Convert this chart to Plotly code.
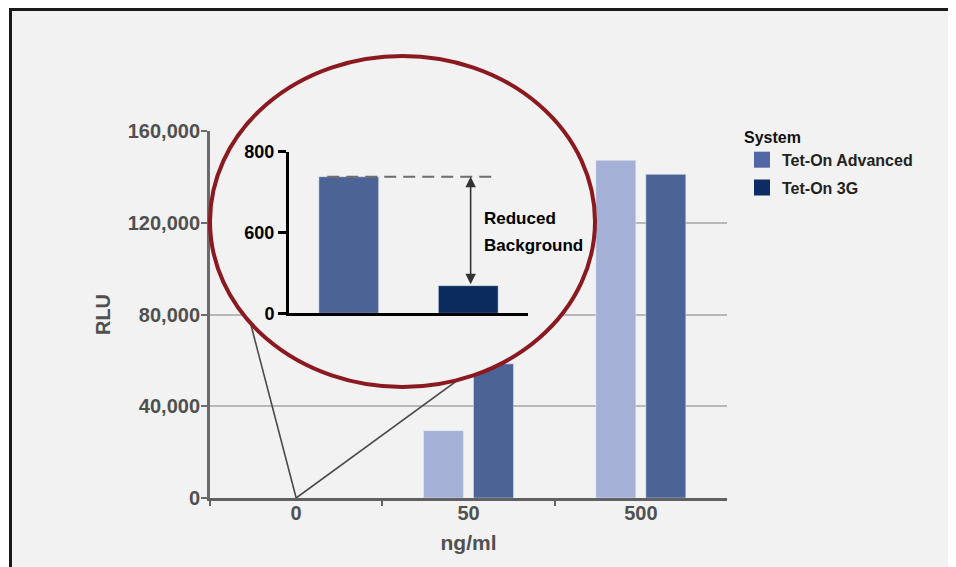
import plotly.graph_objects as go

# ---------------- data ----------------
doses = ["0", "50", "500"]
series_names = ["Tet-On Advanced", "Tet-On 3G"]
adv_rlu = [None, 29300, 147200]      # Tet-On Advanced (main chart)
g3_rlu = [None, 58500, 141100]       # Tet-On 3G (main chart)
inset_rlu = [738, 205]               # background at 0 ng/ml (inset)
inset_tick_vals = [0, 600, 800]
main_tick_vals = [0, 40000, 80000, 120000, 160000]

# colours
main_colors = ["#a4b0d6", "#4c6395"]
legend_colors = ["#5068a3", "#0d2c63"]
inset_colors = ["#4c6396", "#0b2a5e"]

FONT = "Liberation Sans, Arial, sans-serif"
OFF = 8                          # page body margin
W, H = 956 - 2 * OFF, 567 - OFF  # figure fills the window below/right of the body margin


def brk(v):
    """broken inset scale: 0-600 -> 0-1, 600-800 -> 1-2"""
    return v / 600.0 if v <= 600 else 1 + (v - 600) / 200.0


def px(x):
    """page pixel x -> paper fraction"""
    return (x - OFF) / W


def py(y):
    """page pixel y -> paper fraction"""
    return 1 - (y - OFF) / H


fig = go.Figure()

# main bars
fig.add_trace(go.Bar(x=doses, y=adv_rlu, name=series_names[0], marker_color=main_colors[0],
                     showlegend=False, xaxis="x", yaxis="y"))
fig.add_trace(go.Bar(x=doses, y=g3_rlu, name=series_names[1], marker_color=main_colors[1],
                     showlegend=False, xaxis="x", yaxis="y"))

# legend entries (overlay subplot, no data drawn)
for nm, col in zip(series_names, legend_colors):
    fig.add_trace(go.Scatter(x=[None], y=[None], mode="markers", name=nm, legendgroup=nm,
                             marker=dict(symbol="square", size=18, color=col),
                             xaxis="x2", yaxis="y2"))

# inset bars
fig.add_trace(go.Bar(x=series_names, y=[brk(v) for v in inset_rlu], width=0.5,
                     marker_color=inset_colors, showlegend=False,
                     customdata=inset_rlu, hovertemplate="%{x}: %{customdata}<extra></extra>",
                     xaxis="x3", yaxis="y3"))

fig.update_layout(
    width=W, height=H, autosize=False,
    margin=dict(l=0, r=0, t=0, b=0, pad=0, autoexpand=False),
    paper_bgcolor="#f2f2f2",
    plot_bgcolor="rgba(0,0,0,0)",
    font=dict(family=FONT),
    barmode="group", bargap=0.42, bargroupgap=0.2,
    xaxis=dict(domain=[px(210), px(727)], type="category", categoryorder="array",
               categoryarray=doses, range=[-0.5, 2.5], anchor="y", automargin=False,
               showline=True, linecolor="#616161", linewidth=3,
               ticks="outside", tickson="boundaries", ticklen=5, tickwidth=2, tickcolor="#616161",
               tickfont=dict(size=20, color="#505050", weight="bold"), ticklabelstandoff=-5,
               showgrid=False, zeroline=False,
               title=dict(text="ng/ml", font=dict(size=21, color="#505050", weight="bold"), standoff=13)),
    yaxis=dict(domain=[py(498), py(131)], range=[0, 160000], anchor="x", automargin=False,
               tickvals=main_tick_vals, tickformat=",",
               showline=True, linecolor="#6b6b6b", linewidth=3,
               ticks="outside", ticklen=6, tickwidth=2, tickcolor="#6b6b6b",
               tickfont=dict(size=20, color="#505050", weight="bold"), ticklabelstandoff=-3,
               showgrid=True, gridcolor="#b7b7b7", gridwidth=2, zeroline=False,
               title=dict(text="RLU", font=dict(size=20, color="#505050", weight="bold"), standoff=12)),
    xaxis2=dict(domain=[0, 1], range=[OFF, OFF + W], anchor="y2", visible=False, fixedrange=True,
                automargin=False),
    yaxis2=dict(domain=[0, 1], range=[OFF + H, OFF], anchor="x2", visible=False, fixedrange=True,
                automargin=False),
    xaxis3=dict(domain=[px(289), px(528)], type="category", range=[-0.5, 1.5], anchor="y3",
                automargin=False,
                showline=True, linecolor="black", linewidth=3, ticks="",
                showticklabels=False, showgrid=False, zeroline=False),
    yaxis3=dict(domain=[py(313.3), py(151.7)], range=[0, 2], anchor="x3", automargin=False,
                tickvals=[brk(v) for v in inset_tick_vals], ticktext=[str(v) for v in inset_tick_vals],
                showline=True, linecolor="black", linewidth=3,
                ticks="outside", ticklen=8, tickwidth=3, tickcolor="black",
                tickfont=dict(size=18, color="black", weight="bold"),
                showgrid=False, zeroline=False),
    legend=dict(x=px(742), y=py(122), xanchor="left", yanchor="top",
                bgcolor="rgba(0,0,0,0)", tracegroupgap=4,
                font=dict(size=16, color="#222222", weight="bold"),
                title=dict(text="System", font=dict(size=16, color="#111111", weight="bold"))),
)

shapes = [
    # white surround + framed gray panel
    dict(type="rect", xref="paper", yref="paper", x0=-0.02, y0=-0.02, x1=1.02, y1=1.02,
         fillcolor="white", line=dict(width=0), layer="below"),
    dict(type="rect", xref="paper", yref="paper", x0=px(10.5), y0=py(9.5), x1=1.02, y1=-0.02,
         fillcolor="#f2f2f2", line=dict(color="#1a1a1a", width=3), layer="below"),
    # zoom lines from the 0 ng/ml point to the magnifier
    dict(type="line", xref="x", yref="y", x0=0, y0=0, x1=-0.36, y1=103500,
         line=dict(color="#4a4a4a", width=1.6), layer="between"),
    dict(type="line", xref="x", yref="y", x0=0, y0=0, x1=1.30, y1=71300,
         line=dict(color="#4a4a4a", width=1.6), layer="between"),
    # magnifier ellipse (overlay subplot in page-pixel units)
    dict(type="circle", xref="x2", yref="y2", x0=210, x1=595, y0=56, y1=387,
         fillcolor="#f2f2f2", line=dict(color="#8b1a20", width=4), layer="below"),
    # dashed reference line at Tet-On Advanced background
    dict(type="line", xref="x3", yref="y3", x0=-0.18, x1=1.25,
         y0=brk(inset_rlu[0]), y1=brk(inset_rlu[0]),
         line=dict(color="#6e6e6e", width=2.2, dash="12px,7px")),
]
fig.update_layout(shapes=shapes)

fig.add_annotation(xref="x3", yref="y3", axref="x3", ayref="y3",
                   x=1.02, y=brk(inset_rlu[0]), ax=1.02, ay=brk(inset_rlu[1]),
                   text="", showarrow=True, arrowside="end+start", arrowhead=2,
                   arrowsize=1.3, arrowwidth=1.6, arrowcolor="#333333", standoff=0, startstandoff=0)
fig.add_annotation(xref="paper", yref="paper", x=px(482), y=py(218), xanchor="left", yanchor="middle",
                   text="<b>Reduced</b>", showarrow=False, font=dict(size=17, color="black"))
fig.add_annotation(xref="paper", yref="paper", x=px(482), y=py(245), xanchor="left", yanchor="middle",
                   text="<b>Background</b>", showarrow=False, font=dict(size=17, color="black"))

fig.write_html("out.html")
